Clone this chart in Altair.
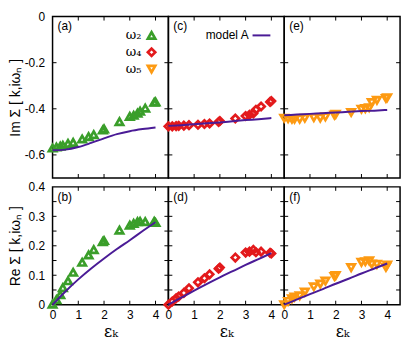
import altair as alt
import pandas as pd

# shared epsilon_k grid of the data points
eps = [0.0, 0.15, 0.3, 0.4, 0.6, 0.8, 1.15, 1.4, 1.6, 1.95, 2.0, 2.6, 3.0, 3.15, 3.3, 3.4, 3.6, 3.95, 4.0]

im_w2 = [-0.570, -0.566, -0.562, -0.558, -0.550, -0.546, -0.531, -0.521, -0.512, -0.492, -0.487,
         -0.456, -0.433, -0.428, -0.419, -0.410, -0.397, -0.372, -0.370]
re_w2 = [0.002, 0.017, 0.034, 0.058, 0.081, 0.110, 0.144, 0.169, 0.187, 0.214, 0.218,
         0.253, 0.270, 0.276, 0.282, 0.283, 0.282, 0.283, 0.279]
im_w4 = [-0.476, -0.476, -0.475, -0.474, -0.473, -0.471, -0.469, -0.466, -0.464, -0.457, -0.453,
         -0.442, -0.431, -0.426, -0.420, -0.404, -0.390, -0.370, -0.366]
re_w4 = [0.000, 0.011, 0.022, 0.028, 0.040, 0.056, 0.076, 0.090, 0.103, 0.122, 0.126,
         0.160, 0.177, 0.180, 0.186, 0.178, 0.180, 0.176, 0.174]
im_w5 = [-0.441, -0.443, -0.445, -0.445, -0.445, -0.441, -0.438, -0.440, -0.435, -0.427, -0.424,
         -0.416, -0.402, -0.399, -0.395, -0.373, -0.363, -0.355, -0.352]
re_w5 = [0.000, 0.011, 0.020, 0.026, 0.030, 0.043, 0.061, 0.070, 0.080, 0.096, 0.099,
         0.126, 0.144, 0.146, 0.149, 0.138, 0.137, 0.127, 0.135]

# model A curves
model_eps = [0.0, 0.5, 1.0, 1.5, 2.0, 2.5, 3.0, 3.5, 4.0]
model_im_a = [-0.580, -0.577, -0.566, -0.548, -0.528, -0.510, -0.497, -0.488, -0.481]
model_re_b = [0.000, 0.045, 0.086, 0.123, 0.157, 0.189, 0.219, 0.250, 0.280]
model_im_c = [-0.474, -0.471, -0.467, -0.463, -0.459, -0.454, -0.449, -0.445, -0.440]
model_re_d = [0.000, 0.024, 0.048, 0.071, 0.093, 0.114, 0.135, 0.155, 0.175]
model_im_e = [-0.428, -0.425, -0.422, -0.419, -0.416, -0.413, -0.410, -0.408, -0.405]
model_re_f = [0.000, 0.018, 0.036, 0.053, 0.071, 0.088, 0.106, 0.123, 0.140]

series_labels = ["ω₂", "ω₄", "ω₅"]
panel_labels = ["(a)", "(b)", "(c)", "(d)", "(e)", "(f)"]
x_ticks = [0, 1, 2, 3, 4]
top_ticks = [0, -0.2, -0.4, -0.6]
bot_ticks = [0, 0.1, 0.2, 0.3, 0.4]
bot_minor = [0.05, 0.1, 0.15, 0.2, 0.25, 0.3, 0.35]
top_minor = [-0.2, -0.4, -0.6]

GREEN = "#3a9e2a"
RED = "#e31a1c"
ORANGE = "#fd9a12"
PURPLE = "#4a1b96"

W = 117
H_TOP = 163
H_BOT = 119
FONT = "Liberation Sans"
MSIZE = 55
MSTROKE = 2.7


def panel(ys, model_y, color, shape, ydom, height, label, ytitle, ylabels, xlabels, minor):
    if xlabels:
        xaxis = alt.Axis(values=x_ticks, title="εₖ", ticks=False, domain=False, grid=False,
                         labelPadding=5, labelFontSize=12, labelFont=FONT, titleFontSize=16,
                         titleFont="DejaVu Serif", titleFontWeight="normal", titlePadding=3,
                         labelColor="black", titleColor="black", labelFlush=False)
    else:
        xaxis = None
    if ytitle is not None:
        yaxis = alt.Axis(values=ylabels, title=ytitle, ticks=False, domain=False, grid=False,
                         labelPadding=8, labelFontSize=12, labelFont=FONT, format=".1~f",
                         labelExpr="replace(datum.label, '\u2212', '-')",
                         titleFontSize=14, titleFont=FONT, titleFontWeight="normal",
                         titlePadding=1, minExtent=29, maxExtent=29,
                         labelColor="black", titleColor="black", labelFlush=False)
    else:
        yaxis = None
    xenc = alt.X("x:Q", scale=alt.Scale(domain=[0, 4.5], nice=False, zero=False), axis=xaxis)
    yenc = alt.Y("y:Q", scale=alt.Scale(domain=ydom, nice=False, zero=False), axis=yaxis)

    df = pd.DataFrame({"x": eps, "y": ys})
    dm = pd.DataFrame({"x": model_eps, "y": model_y})
    pts = alt.Chart(df).mark_point(shape=shape, filled=False, color=color, size=MSIZE,
                                   strokeWidth=MSTROKE, opacity=1).encode(x=xenc, y=yenc)
    line = alt.Chart(dm).mark_line(color=PURPLE, strokeWidth=2, interpolate="monotone").encode(x=xenc, y=yenc)

    ytick = pd.DataFrame({"y": minor})
    xtick = pd.DataFrame({"x": x_ticks[1:]})
    tl = alt.Chart(ytick).mark_rule(color="black", strokeWidth=1).encode(y=yenc, x=alt.value(0), x2=alt.value(4))
    tr = alt.Chart(ytick).mark_rule(color="black", strokeWidth=1).encode(y=yenc, x=alt.value(W - 4), x2=alt.value(W))
    tt = alt.Chart(xtick).mark_rule(color="black", strokeWidth=1).encode(x=xenc, y=alt.value(0), y2=alt.value(4))
    tb = alt.Chart(xtick).mark_rule(color="black", strokeWidth=1).encode(x=xenc, y=alt.value(height - 4), y2=alt.value(height))
    lab = alt.Chart(pd.DataFrame({"t": [label]})).mark_text(
        align="left", baseline="top", fontSize=12, font=FONT, color="black"
    ).encode(x=alt.value(5), y=alt.value(5), text="t:N")
    return [pts, line, tl, tr, tt, tb, lab]


def legend_layers():
    layers = []
    shapes = ["triangle-up", "diamond", "triangle-down"]
    colors = [GREEN, RED, ORANGE]
    ys = [19, 36, 53]
    for lbl, shp, col, yy in zip(series_labels, shapes, colors, ys):
        t = alt.Chart(pd.DataFrame({"t": [lbl]})).mark_text(
            align="left", baseline="middle", fontSize=13, font="DejaVu Serif", color="black"
        ).encode(x=alt.value(74), y=alt.value(yy), text="t:N")
        m = alt.Chart(pd.DataFrame({"t": [lbl]})).mark_point(
            shape=shp, filled=False, color=col, size=MSIZE, strokeWidth=MSTROKE, opacity=1
        ).encode(x=alt.value(100), y=alt.value(yy))
        layers += [t, m]
    return layers


def model_legend():
    t = alt.Chart(pd.DataFrame({"t": ["model A"]})).mark_text(
        align="right", baseline="middle", fontSize=12, font=FONT, color="black"
    ).encode(x=alt.value(81), y=alt.value(19), text="t:N")
    r = alt.Chart(pd.DataFrame({"t": ["model A"]})).mark_rule(color=PURPLE, strokeWidth=2).encode(
        x=alt.value(85), x2=alt.value(103), y=alt.value(19))
    return [t, r]


ytitle_top = "Im Σ [ k,iωₙ ]"
ytitle_bot = "Re Σ [ k,iωₙ ]"

pa = alt.layer(*panel(im_w2, model_im_a, GREEN, "triangle-up", [-0.7, 0], H_TOP, panel_labels[0],
                      ytitle_top, top_ticks, False, top_minor), *legend_layers()).properties(width=W, height=H_TOP)
pc = alt.layer(*panel(im_w4, model_im_c, RED, "diamond", [-0.7, 0], H_TOP, panel_labels[2],
                      None, None, False, top_minor), *model_legend()).properties(width=W, height=H_TOP)
pe = alt.layer(*panel(im_w5, model_im_e, ORANGE, "triangle-down", [-0.7, 0], H_TOP, panel_labels[4],
                      None, None, False, top_minor)).properties(width=W, height=H_TOP)
pb = alt.layer(*panel(re_w2, model_re_b, GREEN, "triangle-up", [0, 0.4], H_BOT, panel_labels[1],
                      ytitle_bot, bot_ticks, True, bot_minor)).properties(width=W, height=H_BOT)
pd_ = alt.layer(*panel(re_w4, model_re_d, RED, "diamond", [0, 0.4], H_BOT, panel_labels[3],
                       None, None, True, bot_minor)).properties(width=W, height=H_BOT)
pf = alt.layer(*panel(re_w5, model_re_f, ORANGE, "triangle-down", [0, 0.4], H_BOT, panel_labels[5],
                      None, None, True, bot_minor)).properties(width=W, height=H_BOT)

top = alt.hconcat(pa, pc, pe, spacing=0, bounds="flush")
bot = alt.hconcat(pb, pd_, pf, spacing=0, bounds="flush")
chart = alt.vconcat(top, bot, spacing=0).properties(
    padding={"left": 0, "top": 0, "right": 5, "bottom": 0}
).configure(background="white").configure_view(stroke="black", strokeWidth=1.5)

chart.save("out.html", embed_options={"renderer": "svg", "actions": False})
